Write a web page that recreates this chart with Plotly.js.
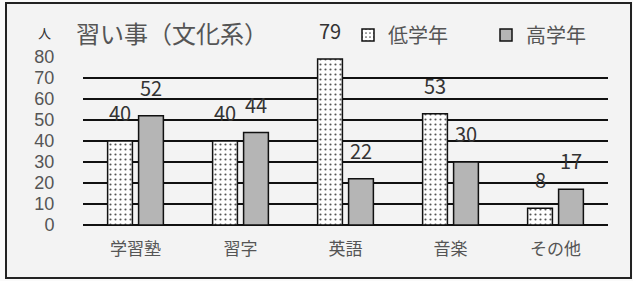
<!DOCTYPE html>
<html><head><meta charset="utf-8">
<script src="https://cdn.plot.ly/plotly-3.0.1.min.js"></script>
<style>
html,body{margin:0;padding:0;background:#fafafa;}
#wrap{position:relative;width:633px;height:281px;overflow:hidden;background:#fafafa;}
#frame{position:absolute;left:5px;top:2px;width:623px;height:273px;border:2px solid #222;background:#f3f3f3;}
#chart{position:absolute;left:0;top:0;width:633px;height:281px;}
</style></head>
<body><div id="wrap"><div id="frame"></div><div id="chart"></div></div>
<script>
const categories = ['学習塾','習字','英語','音楽','その他'];
const lowGrade = [40,40,79,53,8];
const highGrade = [52,44,22,30,17];
const seriesNames = ['低学年','高学年'];
const yTicks = [0,10,20,30,40,50,60,70,80];

const font = '"Noto Sans CJK JP", "Noto Sans", sans-serif';
const numFont = '"Liberation Sans", Arial, sans-serif';
const traces = [
  {type:'bar', name:seriesNames[0], x:categories, y:lowGrade,
   marker:{color:'#ffffff', line:{color:'#111', width:1.5},
     pattern:{shape:'.', bgcolor:'#ffffff', fgcolor:'#555', size:5, solidity:0.15}},
   hoverinfo:'none'},
  {type:'bar', name:seriesNames[1], x:categories, y:highGrade,
   marker:{color:'#b5b5b5', line:{color:'#111', width:1.5}},
   hoverinfo:'none'}
];
const annotations = [];
categories.forEach((c,i)=>{
  annotations.push({x:c, y:lowGrade[i], xref:'x', yref:'y', text:String(lowGrade[i]), showarrow:false,
    xshift:-15.5, yshift:12, yanchor:'bottom', font:{family:font, size:20, color:'#333'}});
  annotations.push({x:c, y:highGrade[i], xref:'x', yref:'y', text:String(highGrade[i]), showarrow:false,
    xshift:15.5, yshift:12, yanchor:'bottom', font:{family:font, size:20, color:'#333'}});
});
annotations.push({xref:'paper', yref:'paper', x:-0.073, y:1.0, xanchor:'center', yanchor:'bottom',
  text:'人', showarrow:false, yshift:13, font:{family:font, size:13, color:'#333'}});

const layout = {
  width:633, height:281,
  margin:{l:83, r:25, t:57, b:56},
  paper_bgcolor:'rgba(0,0,0,0)', plot_bgcolor:'rgba(0,0,0,0)',
  title:{text:'習い事（文化系）', xref:'container', yref:'container', x:76/633, xanchor:'left',
    y:1-35/281, yanchor:'middle', font:{family:font, size:24, color:'#555'}},
  barmode:'group', bargap:0.41, bargroupgap:0.2,
  showlegend:true,
  legend:{orientation:'h', x:348/633, xref:'container', y:1-35/281, yref:'container', yanchor:'middle', xanchor:'left',
    font:{family:font, size:20, color:'#555'}, bgcolor:'rgba(0,0,0,0)', itemwidth:30,
    entrywidth:93, entrywidthmode:'pixels', traceorder:'normal'},
  xaxis:{type:'category', showgrid:false, showline:false, zeroline:false,
    ticks:'outside', ticklen:9, tickcolor:'rgba(0,0,0,0)',
    tickfont:{family:font, size:17, color:'#555'}},
  yaxis:{range:[0,80], tickvals:yTicks, showgrid:true, gridcolor:'#111', gridwidth:2,
    zeroline:true, zerolinecolor:'#111', zerolinewidth:2, showline:false,
    ticks:'outside', ticklen:24, tickcolor:'rgba(0,0,0,0)',
    tickfont:{family:numFont, size:18, color:'#555'}},
  annotations:annotations
};
Plotly.newPlot('chart', traces, layout, {displayModeBar:false, staticPlot:true});
</script></body></html>
